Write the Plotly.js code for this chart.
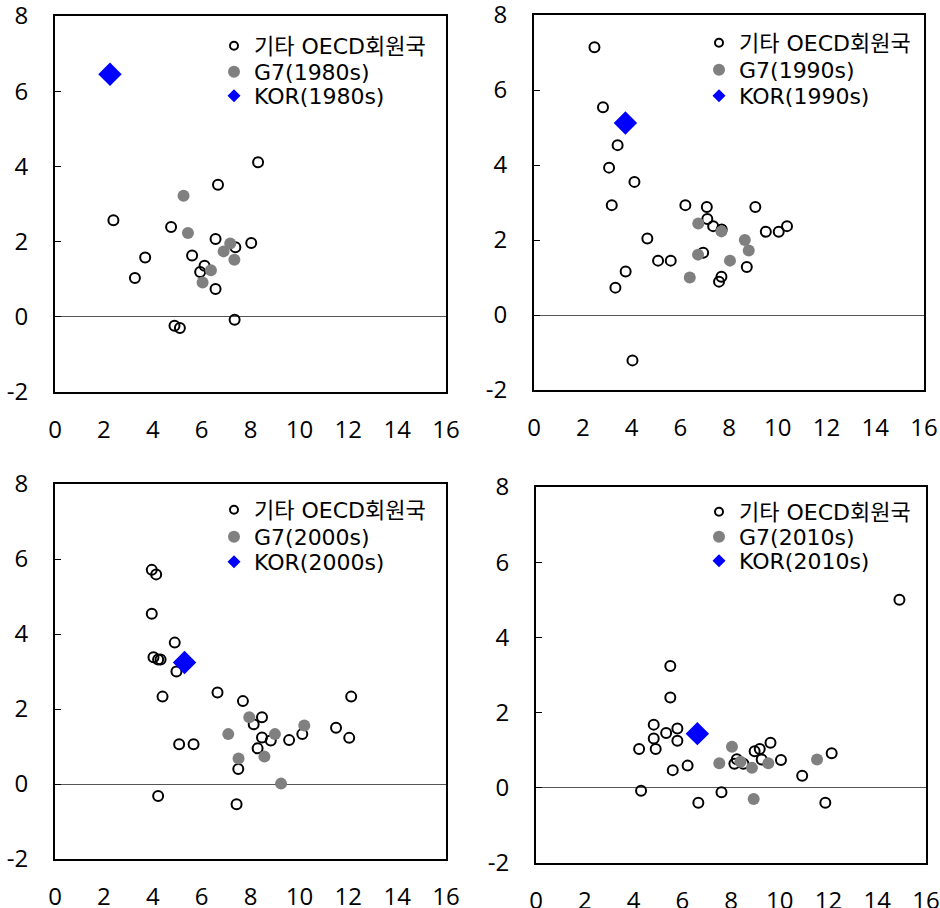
<!DOCTYPE html>
<html>
<head>
<meta charset="utf-8">
<script src="https://cdn.plot.ly/plotly-3.0.1.min.js"></script>
<style>html,body{margin:0;padding:0;background:#fff;}#chart{width:940px;height:908px;}</style>
</head>
<body>
<div id="chart"></div>
<script>
// ---- data (x, y) ----
var decades = ["1980s", "1990s", "2000s", "2010s"];
var othName = "기타 OECD회원국";

// 1980s
var oth80x = [2.39, 3.69, 3.27, 4.75, 4.89, 5.11, 5.61, 6.12, 5.94, 6.67, 6.57, 6.57, 7.38, 7.35, 8.03, 8.31];
var oth80y = [2.57, 1.58, 1.03, 2.39, -0.24, -0.30, 1.63, 1.36, 1.19, 3.51, 2.07, 0.74, 1.85, -0.08, 1.96, 4.11];
var g780x = [5.26, 5.44, 6.38, 6.04, 6.90, 7.17, 7.34];
var g780y = [3.22, 2.23, 1.24, 0.91, 1.74, 1.95, 1.52];
var kor80x = [2.25];
var kor80y = [6.45];

// 1990s
var oth90x = [2.48, 2.83, 3.43, 3.08, 4.12, 3.19, 4.65, 5.09, 5.61, 3.76, 3.34, 4.04, 6.21, 7.09, 7.11, 7.35, 7.70, 6.94, 7.69, 7.59, 8.73, 9.08, 9.51, 10.04, 10.38];
var oth90y = [7.14, 5.54, 4.53, 3.93, 3.55, 2.93, 2.04, 1.45, 1.45, 1.16, 0.73, -1.21, 2.93, 2.88, 2.56, 2.37, 2.28, 1.66, 1.02, 0.89, 1.28, 2.88, 2.22, 2.22, 2.37];
var g790x = [6.74, 7.69, 8.65, 8.81, 6.73, 8.04, 6.39];
var g790y = [2.44, 2.23, 2.00, 1.72, 1.61, 1.45, 1.00];
var kor90x = [3.75];
var kor90y = [5.12];

// 2000s
var oth00x = [3.96, 4.14, 3.96, 4.90, 4.03, 4.22, 4.32, 4.97, 4.40, 5.08, 5.67, 4.22, 6.65, 7.69, 8.47, 8.13, 8.47, 8.83, 8.29, 9.58, 10.12, 7.50, 7.43, 11.50, 12.04, 12.12];
var oth00y = [5.71, 5.59, 4.54, 3.77, 3.38, 3.32, 3.32, 3.00, 2.33, 1.06, 1.06, -0.32, 2.44, 2.21, 1.78, 1.59, 1.24, 1.16, 0.95, 1.17, 1.33, 0.40, -0.54, 1.50, 1.23, 2.33];
var g700x = [7.09, 7.95, 7.51, 8.57, 9.00, 10.20, 9.25];
var g700y = [1.33, 1.78, 0.68, 0.73, 1.33, 1.56, 0.01];
var kor00x = [5.30];
var kor00y = [3.24];

// 2010s
var oth10x = [14.91, 5.51, 5.51, 4.83, 4.83, 4.91, 4.23, 5.34, 5.80, 5.80, 5.61, 6.22, 4.31, 6.66, 7.61, 8.14, 8.24, 8.51, 8.97, 9.18, 9.26, 9.62, 10.05, 10.92, 11.87, 12.13];
var oth10y = [5.00, 3.24, 2.40, 1.68, 1.31, 1.03, 1.03, 1.46, 1.58, 1.25, 0.47, 0.59, -0.08, -0.40, -0.12, 0.64, 0.76, 0.64, 0.97, 1.03, 0.75, 1.20, 0.74, 0.32, -0.40, 0.92];
var g710x = [7.52, 8.04, 8.39, 8.86, 9.53, 8.93, 11.53];
var g710y = [0.65, 1.09, 0.69, 0.53, 0.65, -0.30, 0.75];
var kor10x = [6.62];
var kor10y = [1.44];

var xTicks = [0, 2, 4, 6, 8, 10, 12, 14, 16];
var yTicks = [-2, 0, 2, 4, 6, 8];

var panels = [
  {oth: [oth80x, oth80y], g7: [g780x, g780y], kor: [kor80x, kor80y]},
  {oth: [oth90x, oth90y], g7: [g790x, g790y], kor: [kor90x, kor90y]},
  {oth: [oth00x, oth00y], g7: [g700x, g700y], kor: [kor00x, kor00y]},
  {oth: [oth10x, oth10y], g7: [g710x, g710y], kor: [kor10x, kor10y]}
];

// ---- layout geometry (pixels in a 940x908 page) ----
var W = 940, H = 908;
var boxes = [
  {l: 55, r: 446, t: 16, b: 392, legX: 214, rows: [46, 72, 96]},
  {l: 534, r: 924, t: 15, b: 390, legX: 699, rows: [43, 70, 96]},
  {l: 55, r: 446, t: 484, b: 859, legX: 214, rows: [510, 537, 562]},
  {l: 536, r: 926, t: 487, b: 863, legX: 699, rows: [512, 537, 561]}
];

var TICKFONT = "Open Sans, Noto Sans CJK KR, sans-serif";
var LEGFONT = "DejaVu Sans, Noto Sans CJK KR, sans-serif";
var traces = [];
var layout = {
  width: W, height: H,
  margin: {l: 0, r: 0, t: 0, b: 0},
  paper_bgcolor: "#ffffff",
  plot_bgcolor: "#ffffff",
  font: {family: TICKFONT, size: 22, color: "#000"},
  showlegend: true
};

var legCount = 0;
function addLegend(bx, row) {
  legCount += 1;
  var name = legCount === 1 ? "legend" : "legend" + legCount;
  layout[name] = {
    x: bx.legX / W, y: 1 - bx.rows[row] / H, xref: "paper", yref: "paper",
    xanchor: "left", yanchor: "middle",
    bgcolor: "rgba(0,0,0,0)", borderwidth: 0,
    font: {family: LEGFONT, size: 22, color: "#000"},
    itemclick: false, itemdoubleclick: false
  };
  return name;
}

panels.forEach(function (p, i) {
  var n = i + 1;
  var xa = n === 1 ? "x" : "x" + n;
  var ya = n === 1 ? "y" : "y" + n;
  var bx = boxes[i];

  // data traces
  traces.push({type: "scatter", mode: "markers", x: p.oth[0], y: p.oth[1], xaxis: xa, yaxis: ya,
    showlegend: false, hoverinfo: "skip",
    marker: {symbol: "circle-open", size: 10, color: "#000", line: {width: 2, color: "#000"}}});
  traces.push({type: "scatter", mode: "markers", x: p.g7[0], y: p.g7[1], xaxis: xa, yaxis: ya,
    showlegend: false, hoverinfo: "skip",
    marker: {symbol: "circle", size: 12, color: "#808080"}});
  traces.push({type: "scatter", mode: "markers", x: p.kor[0], y: p.kor[1], xaxis: xa, yaxis: ya,
    showlegend: false, hoverinfo: "skip",
    marker: {symbol: "diamond", size: 18, color: "#0000FF"}});

  // legend entries (smaller symbols, as in the reference legend), one legend box per row
  traces.push({type: "scatter", mode: "markers", x: [null], y: [null], xaxis: xa, yaxis: ya,
    name: othName, legend: addLegend(bx, 0),
    marker: {symbol: "circle-open", size: 8, color: "#000", line: {width: 2, color: "#000"}}});
  traces.push({type: "scatter", mode: "markers", x: [null], y: [null], xaxis: xa, yaxis: ya,
    name: "G7(" + decades[i] + ")", legend: addLegend(bx, 1),
    marker: {symbol: "circle", size: 12, color: "#808080"}});
  traces.push({type: "scatter", mode: "markers", x: [null], y: [null], xaxis: xa, yaxis: ya,
    name: "KOR(" + decades[i] + ")", legend: addLegend(bx, 2),
    marker: {symbol: "diamond", size: 10, color: "#0000FF"}});

  layout[n === 1 ? "xaxis" : "xaxis" + n] = {
    domain: [bx.l / W, bx.r / W], anchor: ya,
    range: [0, 16], tickmode: "array", tickvals: xTicks, ticktext: xTicks.map(String),
    showline: true, mirror: true, linecolor: "#000", linewidth: 2,
    ticks: "", showgrid: false, zeroline: false,
    tickfont: {family: TICKFONT, size: 24, color: "#000"},
    ticklabelstandoff: 15, ticklabeloverflow: "allow", fixedrange: true
  };
  layout[n === 1 ? "yaxis" : "yaxis" + n] = {
    domain: [1 - bx.b / H, 1 - bx.t / H], anchor: xa,
    range: [-2, 8], tickmode: "array", tickvals: yTicks, ticktext: yTicks.map(String),
    showline: true, mirror: true, linecolor: "#000", linewidth: 2,
    ticks: "inside", ticklen: 6, tickwidth: 1, tickcolor: "#000",
    showgrid: false, zeroline: true, zerolinecolor: "#555", zerolinewidth: 1,
    tickfont: {family: TICKFONT, size: 24, color: "#000"},
    ticklabelstandoff: 20, ticklabeloverflow: "allow", fixedrange: true
  };
});

Plotly.newPlot("chart", traces, layout, {displayModeBar: false, staticPlot: true});
</script>
</body>
</html>
